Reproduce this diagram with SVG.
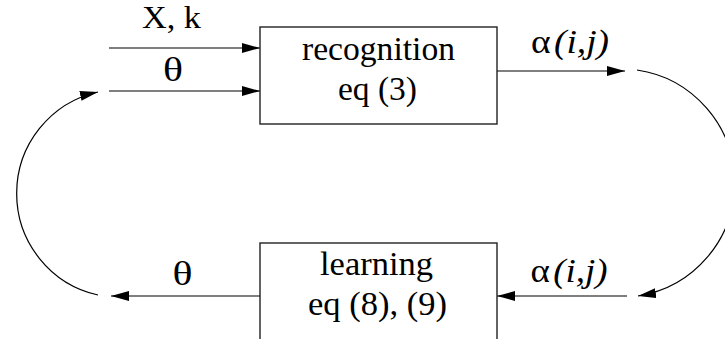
<svg xmlns="http://www.w3.org/2000/svg" width="725" height="339" viewBox="0 0 725 339">
  <style>
    .box { fill: #fff; stroke: #222; stroke-width: 1.4; }
    .conn { fill: none; stroke: #000; stroke-width: 1.2; marker-end: url(#head); }
  </style>
  <defs>
    <marker id="head" markerUnits="userSpaceOnUse" markerWidth="19" markerHeight="11" refX="18" refY="5" orient="auto">
      <path d="M0,0 L18,5 L0,10 z" fill="#000"/>
    </marker>
  </defs>

  <g id="connectors">
    <line class="conn" x1="109" y1="48" x2="260" y2="48"/>
    <line class="conn" x1="109" y1="91" x2="260" y2="91"/>
    <line class="conn" x1="497" y1="71" x2="625" y2="71"/>
    <path class="conn" d="M637,70 A114.3,114.3 0 0 1 638,296"/>
    <line class="conn" x1="627" y1="296" x2="497" y2="296"/>
    <line class="conn" x1="260" y1="296" x2="111" y2="296"/>
    <path class="conn" d="M98,295 A104,104 0 0 1 98,92"/>
  </g>

  <g font-family="Liberation Serif, Times New Roman, serif" font-size="33" fill="#000" text-anchor="middle">
    <g id="recognition">
      <rect class="box" x="260" y="27" width="237" height="97"/>
      <text x="378.5" y="60" textLength="153" lengthAdjust="spacingAndGlyphs">recognition</text>
      <text x="377.5" y="100" textLength="79" lengthAdjust="spacingAndGlyphs">eq (3)</text>
    </g>

    <g id="learning">
      <rect class="box" x="260" y="243" width="237" height="120"/>
      <text x="376.5" y="275" textLength="113" lengthAdjust="spacingAndGlyphs">learning</text>
      <text x="377.5" y="315" textLength="139" lengthAdjust="spacingAndGlyphs">eq (8), (9)</text>
    </g>

    <g id="labels">
      <text x="171.5" y="28" font-size="31" textLength="59" lengthAdjust="spacingAndGlyphs">X, k</text>
      <text x="173" y="81" textLength="20" lengthAdjust="spacingAndGlyphs">θ</text>
      <text x="570" y="53" textLength="78" lengthAdjust="spacingAndGlyphs">α<tspan dx="3" font-style="italic">(i,j)</tspan></text>
      <text x="182.5" y="285" textLength="20" lengthAdjust="spacingAndGlyphs">θ</text>
      <text x="569" y="282" textLength="77" lengthAdjust="spacingAndGlyphs">α<tspan dx="3" font-style="italic">(i,j)</tspan></text>
    </g>
  </g>
</svg>
